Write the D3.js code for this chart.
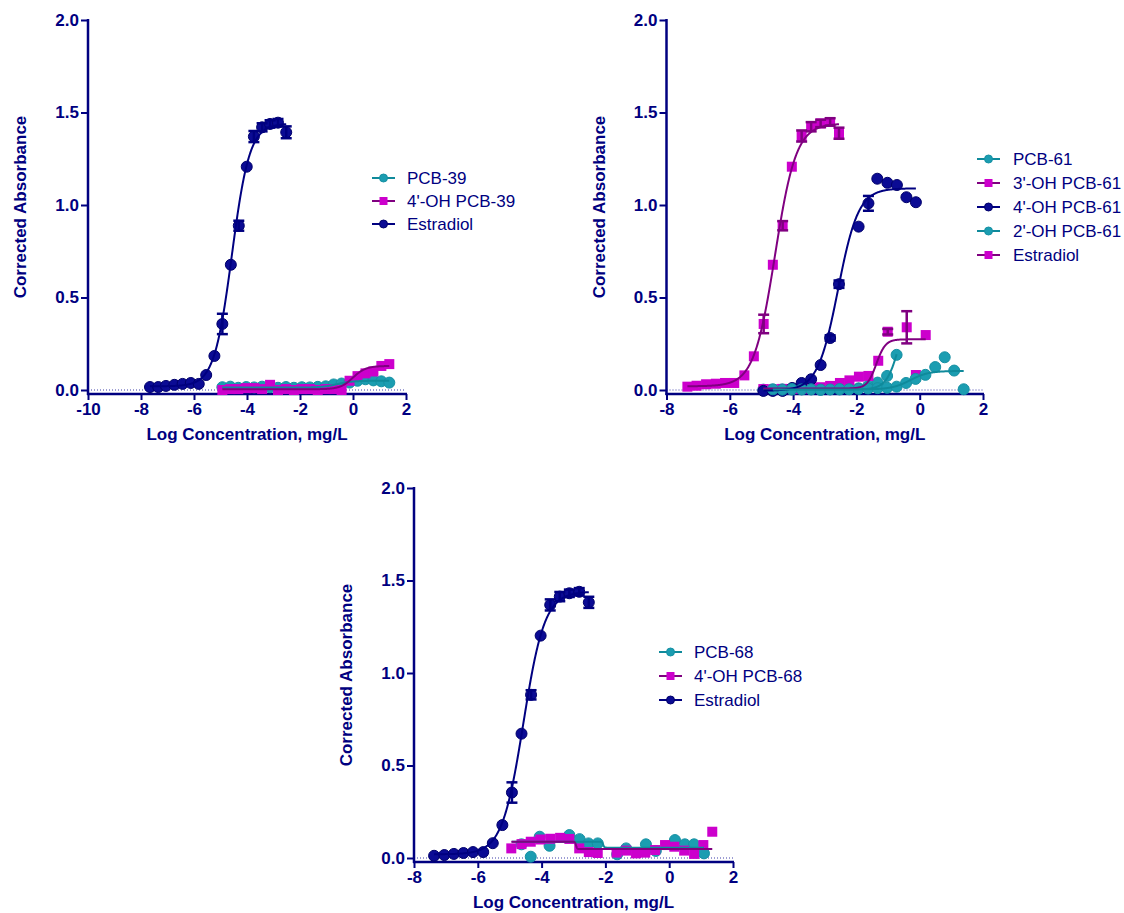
<!DOCTYPE html>
<html lang="en">
<head>
<meta charset="UTF-8">
<title>Corrected Absorbance vs Log Concentration</title>
<script src="https://d3js.org/d3.v7.min.js"></script>
<style>
  body { margin: 0; background: #fff; }
  svg { display: block; font-family: Arial, "Liberation Sans", sans-serif; }
  .tick text { font-size: 17px; font-weight: bold; fill: #000080; }
  .tick line { stroke: #000080; stroke-width: 2; }
  .axis-title { font-size: 17px; font-weight: bold; fill: #000080; }
  .legend text { font-size: 17px; fill: #000080; }
</style>
</head>
<body>
<svg id="chart" width="1124" height="913"></svg>
<script>
// ---- data: panel 1 (PCB-39) ----
const p1EstradiolX = [-7.66,-7.35,-7.06,-6.74,-6.43,-6.12,-5.82,-5.54,-5.23,-4.93,-4.61,-4.31,-4.01,-3.74,-3.43,-3.13,-2.83,-2.52];
const p1EstradiolY = [0.016,0.016,0.022,0.028,0.033,0.038,0.033,0.081,0.184,0.357,0.677,0.888,1.207,1.370,1.420,1.438,1.445,1.393];
const p1EstradiolErr = [0,0,0,0,0,0,0,0,0,0.055,0,0.027,0,0.030,0.022,0.020,0.020,0.032];
const p1ConcX = [-4.93,-4.63,-4.33,-4.03,-3.73,-3.43,-3.13,-2.83,-2.53,-2.23,-1.93,-1.63,-1.33,-1.03,-0.73,-0.43,-0.13,0.17,0.47,0.77,1.07,1.37];
const p1Pcb39Y = [0.015,0.018,0.012,0.016,0.014,0.018,0.015,0.012,0.016,0.012,0.015,0.014,0.017,0.020,0.030,0.035,0.040,0.050,0.058,0.052,0.047,0.040];
const p1OhPcb39Y = [0.000,0.005,0.005,0.010,0.010,0.005,0.028,0.000,0.005,0.000,0.005,0.005,0.000,0.005,0.005,0.000,0.050,0.075,0.090,0.100,0.130,0.140];
// fit parameters: [left plateau, right plateau, logEC50, hill, x from, x to]
const p1Pcb39Fit = [0.013, 0.050, -0.6, 1.5, -4.93, 1.37];
const p1OhPcb39Fit = [0.004, 0.130, 0.0, 1.8, -4.93, 1.37];
const p1EstradiolFit = [0.02, 1.44, -4.57, 1.3, -7.66, -2.52];

// ---- data: panel 2 (PCB-61) ----
const p2Pcb61X = [-4.94,-4.64,-4.34,-4.04,-3.73,-3.43,-3.13,-2.83,-2.53,-2.23,-1.93,-1.63,-1.33,-1.03,-0.73];
const p2Pcb61Y = [0.002,0.000,0.003,0.002,0.004,0.003,0.001,0.004,0.003,0.005,0.009,0.022,0.040,0.076,0.190];
const p2Oh3X = [-4.94,-4.64,-4.34,-4.04,-3.73,-3.43,-3.13,-2.83,-2.52,-2.22,-1.92,-1.62,-1.31,-1.01,-0.41,-0.12,0.19];
const p2Oh3Y = [0.005,0.004,0.006,0.005,0.007,0.010,0.015,0.022,0.038,0.052,0.072,0.076,0.158,0.315,0.339,0.081,0.297];
const p2Oh3Err = [0,0,0,0,0,0,0,0,0,0,0,0,0,0.015,0.087,0,0];
const p2Oh4X = [-4.94,-4.64,-4.33,-4.03,-3.73,-3.43,-3.13,-2.83,-2.55,-1.93,-1.62,-1.34,-1.02,-0.72,-0.42,-0.12];
const p2Oh4Y = [-0.005,-0.005,-0.005,0.011,0.038,0.058,0.135,0.281,0.572,0.883,1.009,1.142,1.120,1.108,1.042,1.015];
const p2Oh4Err = [0,0,0,0,0,0,0,0.015,0.020,0,0.040,0,0,0,0,0];
const p2Oh2X = [-4.64,-4.34,-4.04,-3.73,-3.43,-3.13,-2.83,-2.53,-2.23,-1.93,-1.63,-1.33,-1.03,-0.73,-0.43,-0.13,0.18,0.49,0.79,1.09,1.39];
const p2Oh2Y = [0.004,0.002,0.005,0.003,0.004,0.002,0.003,0.005,0.004,0.006,0.008,0.010,0.012,0.018,0.038,0.060,0.082,0.124,0.177,0.105,0.004];
const p2EstradiolX = [-7.34,-7.05,-6.75,-6.44,-6.15,-5.86,-5.54,-5.24,-4.93,-4.64,-4.33,-4.04,-3.73,-3.43,-3.13,-2.83,-2.55];
const p2EstradiolY = [0.018,0.023,0.031,0.034,0.038,0.038,0.079,0.182,0.357,0.677,0.888,1.207,1.373,1.423,1.441,1.449,1.388];
const p2EstradiolErr = [0,0,0,0,0,0,0,0,0.05,0,0.025,0,0.03,0.025,0.02,0.02,0.03];
const p2Pcb61Fit = [0.003, 0.55, -0.6, 2.1, -4.94, -0.73];
const p2Oh3Fit = [0.008, 0.274, -1.37, 3.0, -4.94, 0.19];
const p2Oh4Fit = [-0.004, 1.09, -2.58, 1.35, -4.94, -0.12];
const p2Oh2Fit = [0.003, 0.103, -0.3, 1.5, -4.64, 1.39];
const p2EstradiolFit = [0.02, 1.44, -4.57, 1.3, -7.34, -2.55];

// ---- data: panel 3 (PCB-68) ----
const p3Pcb68X = [-4.63,-4.34,-4.06,-3.75,-3.13,-2.81,-2.53,-2.24,-1.63,-1.35,-0.73,-0.42,0.18,0.49,0.78,1.09];
const p3Pcb68Y = [0.074,0.007,0.115,0.066,0.124,0.102,0.079,0.079,0.020,0.052,0.074,0.038,0.097,0.074,0.074,0.025];
const p3Oh68X = [-4.95,-4.63,-4.34,-4.04,-3.73,-3.42,-3.13,-2.82,-2.52,-2.24,-1.65,-1.35,-1.04,-0.75,-0.44,-0.13,0.16,0.47,0.78,1.07,1.35];
const p3Oh68Y = [0.052,0.075,0.088,0.100,0.104,0.109,0.103,0.052,0.032,0.027,0.029,0.040,0.025,0.029,0.043,0.070,0.061,0.040,0.022,0.070,0.142];
const p3EstradiolX = [-7.37,-7.05,-6.75,-6.45,-6.15,-5.83,-5.53,-5.23,-4.93,-4.63,-4.33,-4.03,-3.73,-3.43,-3.13,-2.82,-2.52];
const p3EstradiolY = [0.012,0.016,0.022,0.027,0.032,0.032,0.080,0.178,0.354,0.672,0.882,1.202,1.368,1.413,1.431,1.439,1.382];
const p3EstradiolErr = [0,0,0,0,0,0,0,0,0.055,0,0.025,0,0.03,0.025,0.02,0.02,0.03];
const p3Pcb68Fit = [0.088, 0.056, -2.07, 25, -4.93, 1.09];
const p3Oh68Fit = [0.088, 0.048, -2.92, 25, -4.95, 1.35];
const p3EstradiolFit = [0.02, 1.44, -4.57, 1.3, -7.37, -2.52];

const yTicks = [0, 0.5, 1.0, 1.5, 2.0];
const xTicksWide = [-10, -8, -6, -4, -2, 0, 2];
const xTicksNarrow = [-8, -6, -4, -2, 0, 2];

// ---- styles ----
const styles = {
    teal:    { shape: "circle", fill: "#1b9db1", stroke: "#1590a3", line: "#0f8a9b" },
    magenta: { shape: "square", fill: "#cc00cc", stroke: "#cc00cc", line: "#800080" },
    navy:    { shape: "circle", fill: "#0b0b94", stroke: "#00006a", line: "#000080" }
};
const axisColor = "#000080";

function series(name, style, xs, ys, errs, fit) {
    return { name, style, points: xs.map((x, i) => ({ x, y: ys[i], e: errs ? errs[i] : 0 })), fit };
}

const panels = [
    {
        left: 88, right: 406, zeroY: 390, xDomain: [-10, 2], xTicks: xTicksWide,
        legend: { x1: 372, x2: 395, tx: 407, rows: [178, 201, 224] },
        series: [
            series("PCB-39", "teal", p1ConcX, p1Pcb39Y, null, p1Pcb39Fit),
            series("4'-OH PCB-39", "magenta", p1ConcX, p1OhPcb39Y, null, p1OhPcb39Fit),
            series("Estradiol", "navy", p1EstradiolX, p1EstradiolY, p1EstradiolErr, p1EstradiolFit)
        ]
    },
    {
        left: 666.5, right: 983, zeroY: 390, xDomain: [-8, 2], xTicks: xTicksNarrow,
        legend: { x1: 977, x2: 1000, tx: 1013, rows: [159, 183, 207, 231, 255] },
        series: [
            series("PCB-61", "teal", p2Pcb61X, p2Pcb61Y, null, p2Pcb61Fit),
            series("3'-OH PCB-61", "magenta", p2Oh3X, p2Oh3Y, p2Oh3Err, p2Oh3Fit),
            series("4'-OH PCB-61", "navy", p2Oh4X, p2Oh4Y, p2Oh4Err, p2Oh4Fit),
            series("2'-OH PCB-61", "teal", p2Oh2X, p2Oh2Y, null, p2Oh2Fit),
            series("Estradiol", "magenta", p2EstradiolX, p2EstradiolY, p2EstradiolErr, p2EstradiolFit)
        ]
    },
    {
        left: 414, right: 733, zeroY: 858, xDomain: [-8, 2], xTicks: xTicksNarrow,
        legend: { x1: 659, x2: 682, tx: 694, rows: [652, 676, 700] },
        series: [
            series("PCB-68", "teal", p3Pcb68X, p3Pcb68Y, null, p3Pcb68Fit),
            series("4'-OH PCB-68", "magenta", p3Oh68X, p3Oh68Y, null, p3Oh68Fit),
            series("Estradiol", "navy", p3EstradiolX, p3EstradiolY, p3EstradiolErr, p3EstradiolFit)
        ]
    }
];

const svg = d3.select("#chart");

function logistic(f, xv) {
    return f[0] + (f[1] - f[0]) / (1 + Math.pow(10, (f[2] - xv) * f[3]));
}

function drawMarker(g, style, cx, cy, size) {
    const s = styles[style];
    if (s.shape === "circle") {
        g.append("circle").attr("cx", cx).attr("cy", cy).attr("r", size / 2)
            .attr("fill", s.fill).attr("stroke", s.stroke).attr("stroke-width", 1);
    } else {
        g.append("rect").attr("x", cx - size / 2).attr("y", cy - size / 2)
            .attr("width", size).attr("height", size).attr("fill", s.fill);
    }
}

function drawPanel(p) {
    const x = d3.scaleLinear().domain(p.xDomain).range([p.left, p.right]);
    const y = d3.scaleLinear().domain([0, 2]).range([p.zeroY, p.zeroY - 370]);
    const axisY = p.zeroY + 4;
    const g = svg.append("g");

    // dotted baseline at zero
    g.append("line")
        .attr("x1", p.left).attr("x2", p.right).attr("y1", y(0)).attr("y2", y(0))
        .attr("stroke", "#3c3ca8").attr("stroke-width", 1).attr("stroke-dasharray", "1,2");

    // y axis
    const yAxis = g.append("g").attr("transform", `translate(${p.left},0)`)
        .call(d3.axisLeft(y).tickValues(yTicks).tickFormat(d3.format(".1f"))
            .tickSize(7).tickSizeOuter(0).tickPadding(2));
    yAxis.select(".domain").remove();
    g.append("line")
        .attr("x1", p.left).attr("x2", p.left).attr("y1", y(2) - 1).attr("y2", axisY + 1)
        .attr("stroke", axisColor).attr("stroke-width", 2.5);

    // x axis
    const xAxis = g.append("g").attr("transform", `translate(0,${axisY})`)
        .call(d3.axisBottom(x).tickValues(p.xTicks).tickFormat(d => String(d))
            .tickSize(6).tickSizeOuter(0).tickPadding(3));
    xAxis.select(".domain").remove();
    g.append("line")
        .attr("x1", p.left - 1).attr("x2", p.right + 1).attr("y1", axisY).attr("y2", axisY)
        .attr("stroke", axisColor).attr("stroke-width", 2.5);

    // axis titles
    g.append("text").attr("class", "axis-title")
        .attr("x", (p.left + p.right) / 2).attr("y", axisY + 46)
        .attr("text-anchor", "middle").text("Log Concentration, mg/L");
    g.append("text").attr("class", "axis-title")
        .attr("transform", `translate(${p.left - 62},${(y(0) + y(2)) / 2 + 2}) rotate(-90)`)
        .attr("text-anchor", "middle").text("Corrected Absorbance");

    // symbols
    p.series.forEach(s => {
        const mg = g.append("g");
        s.points.forEach(d => drawMarker(mg, s.style, x(d.x), y(d.y), s.style === "magenta" ? 10 : 11));
    });

    // error bars and fitted curves on top of the symbols
    p.series.forEach(s => {
        const col = styles[s.style].line;
        s.points.filter(d => d.e > 0).forEach(d => {
            const cx = x(d.x);
            g.append("line").attr("x1", cx).attr("x2", cx)
                .attr("y1", y(d.y - d.e)).attr("y2", y(d.y + d.e))
                .attr("stroke", col).attr("stroke-width", 2.5);
            [d.y - d.e, d.y + d.e].forEach(v => {
                g.append("line").attr("x1", cx - 5.5).attr("x2", cx + 5.5)
                    .attr("y1", y(v)).attr("y2", y(v))
                    .attr("stroke", col).attr("stroke-width", 2.5);
            });
        });

        const f = s.fit;
        const xs = d3.range(f[4], f[5], 0.01).concat([f[5]]);
        const line = d3.line().x(v => x(v)).y(v => y(logistic(f, v)));
        g.append("path").datum(xs).attr("d", line)
            .attr("fill", "none").attr("stroke", col).attr("stroke-width", 2);
    });

    // legend
    const lg = g.append("g").attr("class", "legend");
    p.series.forEach((s, i) => {
        const ry = p.legend.rows[i];
        lg.append("line").attr("x1", p.legend.x1).attr("x2", p.legend.x2)
            .attr("y1", ry).attr("y2", ry)
            .attr("stroke", styles[s.style].line).attr("stroke-width", 2);
        drawMarker(lg, s.style, (p.legend.x1 + p.legend.x2) / 2, ry, 8);
        lg.append("text").attr("x", p.legend.tx).attr("y", ry).attr("dy", "0.35em").text(s.name);
    });
}

panels.forEach(drawPanel);
</script>
</body>
</html>
